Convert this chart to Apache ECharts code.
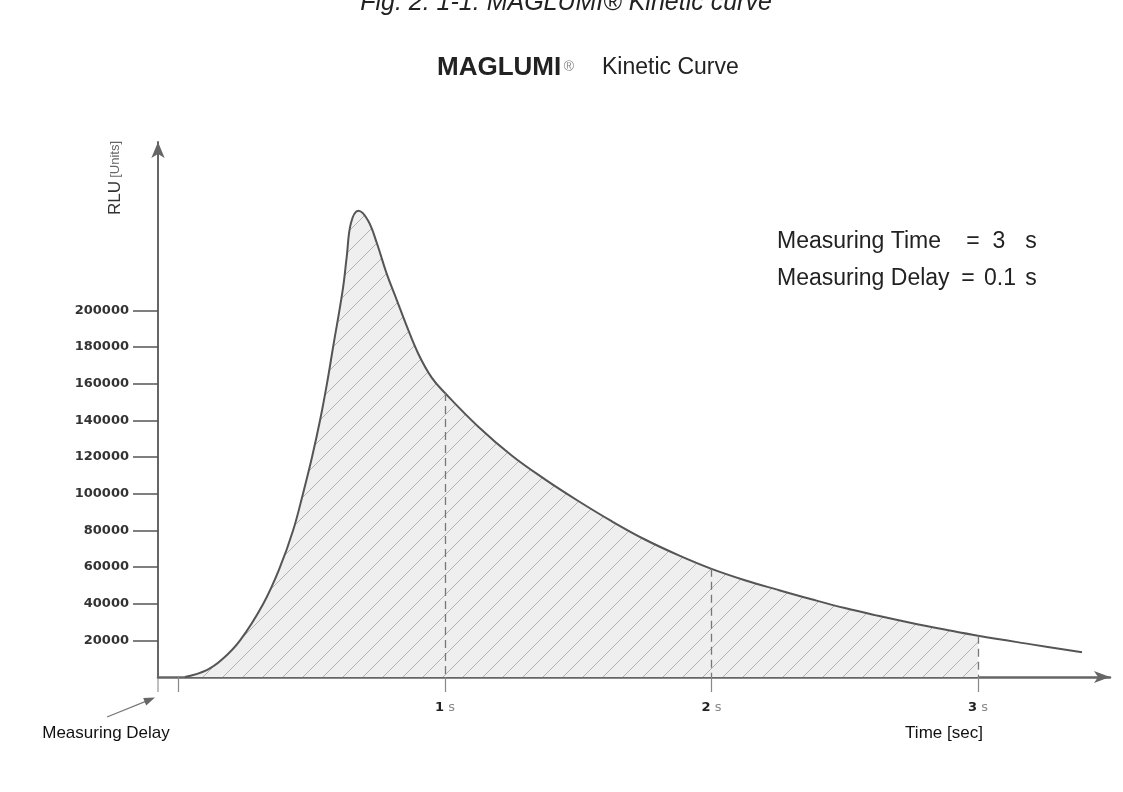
<!DOCTYPE html>
<html>
<head>
<meta charset="utf-8">
<script src="https://cdn.jsdelivr.net/npm/echarts@6/dist/echarts.min.js"></script>
<style>
  html, body { margin: 0; padding: 0; background: #ffffff; }
  #chart { width: 1123px; height: 792px; }
</style>
</head>
<body>
<div id="chart"></div>
<script>
// ---- data ----
const curveT = [0.024, 0.106, 0.163, 0.231, 0.318, 0.381, 0.430, 0.467, 0.501, 0.531, 0.557, 0.580, 0.616, 0.631, 0.647, 0.675, 0.711, 0.744, 0.781, 0.819, 0.856, 0.900, 0.950, 1.0, 1.125, 1.25, 1.375, 1.5, 1.625, 1.75, 1.875, 2.0, 2.125, 2.25, 2.375, 2.5, 2.625, 2.75, 2.875, 3.0, 3.2, 3.39];
const curveV = [0, 3800, 9500, 20000, 40000, 60000, 80000, 100000, 120000, 140000, 160000, 180000, 211000, 229000, 247600, 254300, 249000, 236700, 220000, 205600, 191500, 176200, 163300, 154900, 136500, 120800, 107800, 96000, 85000, 75000, 66500, 59000, 52800, 47500, 42400, 37600, 33400, 29500, 25900, 22500, 17800, 13500];
const measureEnd = 3;                 // measuring time (s)
const markTimes = [1, 2, 3];          // dashed guide lines
const xTickValues = [0, 1, 2, 3];
const xLabelValues = [1, 2, 3];
const yTickValues = [20000, 40000, 60000, 80000, 100000, 120000, 140000, 160000, 180000, 200000];

// ---- hatch pattern ----
function makeHatch() {
  const c = document.createElement('canvas');
  c.width = 20; c.height = 20;
  const g = c.getContext('2d');
  g.fillStyle = '#efefef';
  g.fillRect(0, 0, 20, 20);
  g.strokeStyle = '#b2b2b2';
  g.lineWidth = 1;
  for (const off of [-20, 0, 20]) {
    g.beginPath();
    g.moveTo(off, 20);
    g.lineTo(off + 20, 0);
    g.stroke();
  }
  return c;
}

const linePairs = curveT.map((t, i) => [t, curveV[i]]);
const areaPairs = linePairs.filter(p => p[0] <= measureEnd);
const valueAt = t => curveV[curveT.indexOf(t)];

const FONT = '"Liberation Sans", Arial, sans-serif';
const SMOOTH = 0.4;

const chart = echarts.init(document.getElementById('chart'), null, { renderer: 'canvas' });
const option = {
  backgroundColor: '#ffffff',
  animation: false,
  grid: { left: 158, right: 13, top: 142, bottom: 115, containLabel: false, outerBoundsMode: 'none' },
  xAxis: {
    type: 'value', min: -0.077, max: 3.495,
    axisLine: { show: true, onZero: false, symbol: ['none', 'arrow'], symbolSize: [9, 16],
      lineStyle: { color: '#666', width: 2.5 } },
    axisTick: { show: true, customValues: xTickValues, length: 15, inside: false,
      lineStyle: { color: '#888', width: 1.2 } },
    axisLabel: {
      customValues: xLabelValues, margin: 24,
      formatter: v => '{n|' + v + '}{s| s}',
      rich: {
        n: { fontFamily: 'DejaVu Sans', fontWeight: 'bold', fontSize: 13, color: '#222' },
        s: { fontFamily: 'DejaVu Sans', fontSize: 13, color: '#888' }
      }
    },
    splitLine: { show: false }
  },
  yAxis: {
    type: 'value', min: 0, max: 291800,
    axisLine: { show: true, onZero: false, symbol: ['none', 'arrow'], symbolSize: [10, 16],
      lineStyle: { color: '#666', width: 2 } },
    axisTick: { show: true, customValues: yTickValues, length: 25,
      lineStyle: { color: '#555', width: 1.5 } },
    axisLabel: { customValues: yTickValues, margin: 29, fontFamily: 'DejaVu Sans',
      fontWeight: 'bold', fontSize: 13, color: '#333', formatter: v => String(v) },
    splitLine: { show: false }
  },
  series: [
    {
      name: 'area', type: 'line', data: areaPairs, smooth: SMOOTH,
      symbol: 'none', lineStyle: { width: 0, opacity: 0 },
      areaStyle: { color: { image: makeHatch(), repeat: 'repeat' }, opacity: 1 },
      z: 1,
      markLine: {
        silent: true, symbol: 'none', label: { show: false },
        lineStyle: { type: [8, 5], color: '#777', width: 1.3 },
        data: markTimes.map(t => [{ coord: [t, valueAt(t)] }, { coord: [t, 0] }])
      }
    },
    {
      name: 'curve', type: 'line', data: linePairs, smooth: SMOOTH,
      symbol: 'none', lineStyle: { color: '#555', width: 2 }, z: 3
    }
  ],
  graphic: [
    { type: 'text', x: 566, y: 3, style: { text: 'Fig. 2. 1-1. MAGLUMI® Kinetic curve',
      font: 'italic 25px ' + FONT, fill: '#222', textAlign: 'center', textVerticalAlign: 'middle' } },
    { type: 'text', x: 437, y: 68, style: { text: 'MAGLUMI', font: 'bold 26px ' + FONT,
      fill: '#222', textAlign: 'left', textVerticalAlign: 'middle' } },
    { type: 'text', x: 569, y: 67, style: { text: '®', font: '14px ' + FONT,
      fill: '#888', textAlign: 'center', textVerticalAlign: 'middle' } },
    { type: 'text', x: 602, y: 68, style: { text: 'Kinetic Curve', font: '23px ' + FONT,
      fill: '#222', textAlign: 'left', textVerticalAlign: 'middle' } },
    { type: 'text', x: 115, y: 178, rotation: Math.PI / 2, style: {
      text: '{a|RLU} {b|[Units]}', textAlign: 'center', textVerticalAlign: 'middle',
      rich: { a: { font: '17px ' + FONT, fill: '#333' }, b: { font: '13px ' + FONT, fill: '#666' } } } },
    { type: 'text', x: 777, y: 242, style: { text: 'Measuring Time', font: '23px ' + FONT,
      fill: '#222', textAlign: 'left', textVerticalAlign: 'middle' } },
    { type: 'text', x: 973, y: 242, style: { text: '=', font: '23px ' + FONT,
      fill: '#222', textAlign: 'center', textVerticalAlign: 'middle' } },
    { type: 'text', x: 999, y: 242, style: { text: '3', font: '23px ' + FONT,
      fill: '#222', textAlign: 'center', textVerticalAlign: 'middle' } },
    { type: 'text', x: 1031, y: 242, style: { text: 's', font: '23px ' + FONT,
      fill: '#222', textAlign: 'center', textVerticalAlign: 'middle' } },
    { type: 'text', x: 777, y: 279, style: { text: 'Measuring Delay', font: '23px ' + FONT,
      fill: '#222', textAlign: 'left', textVerticalAlign: 'middle' } },
    { type: 'text', x: 968, y: 279, style: { text: '=', font: '23px ' + FONT,
      fill: '#222', textAlign: 'center', textVerticalAlign: 'middle' } },
    { type: 'text', x: 1000, y: 279, style: { text: '0.1', font: '23px ' + FONT,
      fill: '#222', textAlign: 'center', textVerticalAlign: 'middle' } },
    { type: 'text', x: 1031, y: 279, style: { text: 's', font: '23px ' + FONT,
      fill: '#222', textAlign: 'center', textVerticalAlign: 'middle' } },
    { type: 'text', x: 106, y: 733, style: { text: 'Measuring Delay', font: '17px ' + FONT,
      fill: '#111', textAlign: 'center', textVerticalAlign: 'middle' } },
    { type: 'text', x: 944, y: 733, style: { text: 'Time [sec]', font: '17px ' + FONT,
      fill: '#111', textAlign: 'center', textVerticalAlign: 'middle' } },
    { type: 'line', shape: { x1: 158, y1: 678, x2: 158, y2: 692 },
      style: { stroke: '#aaa', lineWidth: 1.5 } },
    { type: 'line', shape: { x1: 107, y1: 717, x2: 150, y2: 699.6 },
      style: { stroke: '#777', lineWidth: 1.3 } },
    { type: 'polygon', shape: { points: [[155, 697.6], [146.2, 705.5], [143.2, 698]] },
      style: { fill: '#666' } }
  ]
};
chart.setOption(option);
</script>
</body>
</html>
